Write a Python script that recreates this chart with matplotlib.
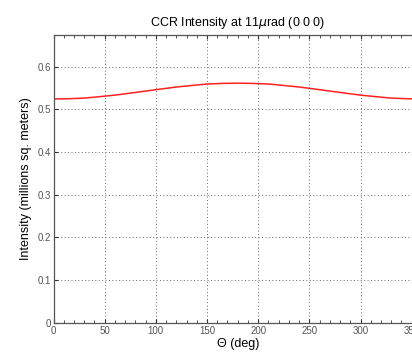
import matplotlib
matplotlib.use("Agg")
import matplotlib.pyplot as plt
from matplotlib.ticker import MultipleLocator

# CCR intensity vs rotation angle
theta = [0, 15, 30, 45, 60, 75, 90, 105, 120, 135, 150, 165, 180,
         195, 210, 225, 240, 255, 270, 285, 300, 315, 330, 345, 360]
intensity = [0.524, 0.5246, 0.526, 0.5294, 0.533, 0.5377, 0.5425,
             0.5473, 0.552, 0.5556, 0.559, 0.5604, 0.561,
             0.5604, 0.559, 0.5556, 0.552, 0.5473, 0.5425,
             0.5377, 0.533, 0.5294, 0.526, 0.5246, 0.524]
x_ticks = [0, 50, 100, 150, 200, 250, 300, 350]
y_ticks = [0, 0.1, 0.2, 0.3, 0.4, 0.5, 0.6]
y_labels = ["0", "0.1", "0.2", "0.3", "0.4", "0.5", "0.6"]

plt.rcParams["font.family"] = ["Liberation Sans", "DejaVu Sans"]

fig = plt.figure(figsize=(4.12, 3.57), dpi=100)
ax = fig.add_axes([0.130, 0.096, 0.894, 0.805])

ax.plot(theta, intensity, color="#ff2020", lw=1.1)

ax.set_xlim(0, 360)
ax.set_ylim(0, 0.673)
ax.set_xticks(x_ticks)
ax.set_yticks(y_ticks)
ax.set_yticklabels(y_labels)
ax.xaxis.set_minor_locator(MultipleLocator(10))
ax.tick_params(which="both", direction="in", top=True, right=True,
               labelsize=7, labelcolor="#555555", color="#333333")
ax.tick_params(which="major", length=3, pad=2)
ax.tick_params(which="minor", length=2)
ax.grid(True, which="major", color="#666666", lw=0.7, ls=(0, (1, 2.5)))
for s in ax.spines.values():
    s.set_color("#555555")
    s.set_linewidth(0.9)

ax.set_title("CCR Intensity at 11$\\mu$rad (0 0 0)", fontsize=9, pad=7)
ax.set_xlabel("\u0398 (deg)", fontsize=9, labelpad=2)
ax.set_ylabel("Intensity (millions sq. meters)", fontsize=9, labelpad=4)

fig.savefig("out.png", dpi=100)
